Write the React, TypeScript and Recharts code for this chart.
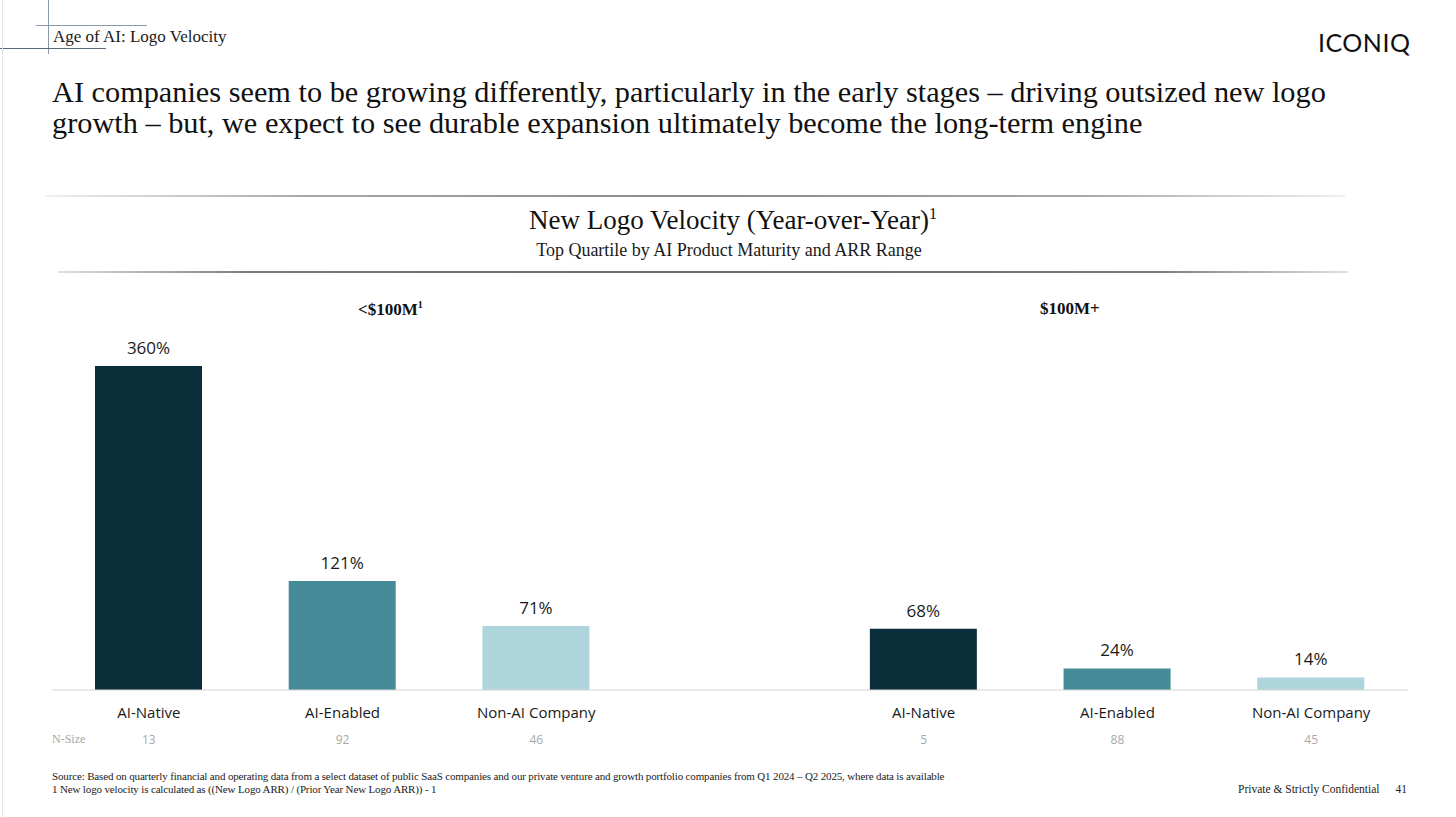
import React from "react";
import { BarChart, Bar, XAxis, YAxis, Cell, LabelList } from "recharts";

const categories = ["AI-Native", "AI-Enabled", "Non-AI Company", "", "AI-Native", "AI-Enabled", "Non-AI Company"];
const velocity: (number | null)[] = [360, 121, 71, null, 68, 24, 14];
const nSize: (number | null)[] = [13, 92, 46, null, 5, 88, 45];
const barColors = ["#0A2F3A", "#458A97", "#AED4DC", "#ffffff", "#0A2F3A", "#458A97", "#AED4DC"];
const groupLabels = ["<$100M", "$100M+"];

const data = categories.map((c, i) => ({
  key: `k${i}`,
  category: c,
  value: velocity[i],
  n: nSize[i],
}));

const SERIF = "'Liberation Serif', 'DejaVu Serif', serif";
const SANS = "'Open Sans', 'Noto Sans', sans-serif";

const Tick = (props: any) => {
  const { x, y, payload } = props;
  const idx = payload.index;
  const row = data[idx];
  if (!row || !row.category) return null;
  return (
    <g>
      <text x={x} y={y + 20} textAnchor="middle" fontFamily={SANS} fontSize={15} fill="#1a1a1a">
        {row.category}
      </text>
      <text x={x} y={y + 46} textAnchor="middle" fontFamily={SANS} fontSize={12} fill="#a8a8a8">
        {row.n}
      </text>
    </g>
  );
};

const abs = (s: React.CSSProperties): React.CSSProperties => ({ position: "absolute", ...s });

export default function App() {
  return (
    <div style={{ position: "absolute", left: 0, top: 0, width: 1456, height: 817, background: "#fff", overflow: "hidden" }}>
      {/* decorative header lines */}
      <div style={abs({ left: 48, top: 0, width: 1, height: 54, background: "#8a9aa8" })} />
      <div style={abs({ left: 36, top: 25, width: 111, height: 1, background: "#8a9aa8" })} />
      <div style={abs({ left: 0, top: 48, width: 106, height: 1, background: "#5a6a78" })} />
      <div style={abs({ left: 2, top: 0, width: 1, height: 817, background: "#e6e6e6" })} />
      <div style={abs({ left: 53, top: 27, fontFamily: SERIF, fontSize: 17, color: "#1a1a1a", whiteSpace: "nowrap" })}>
        Age of AI: Logo Velocity
      </div>
      <div style={abs({ left: 1318, top: 27, fontFamily: "Lato, sans-serif", fontSize: 25, color: "#111", letterSpacing: 0.5, whiteSpace: "nowrap" })}>
        ICONIQ
      </div>
      <div style={abs({ left: 52, top: 77, fontFamily: SERIF, fontSize: 30.3, lineHeight: "31px", color: "#111", whiteSpace: "nowrap" })}>
        AI companies seem to be growing differently, particularly in the early stages – driving outsized new logo
        <br />
        growth – but, we expect to see durable expansion ultimately become the long-term engine
      </div>

      {/* chart title block */}
      <div style={abs({ left: 45, top: 195, width: 1300, height: 2, background: "linear-gradient(90deg, #f0f0f0, #a8a8a8 20%, #8a8a8a 50%, #a8a8a8 80%, #f0f0f0)" })} />
      <div style={abs({ left: 0, top: 205, width: 1466, textAlign: "center", fontFamily: SERIF, fontSize: 27, color: "#111", whiteSpace: "nowrap" })}>
        New Logo Velocity (Year-over-Year)<sup style={{ fontSize: 16 }}>1</sup>
      </div>
      <div style={abs({ left: 0, top: 240, width: 1458, textAlign: "center", fontFamily: SERIF, fontSize: 18, color: "#1a1a1a", whiteSpace: "nowrap" })}>
        Top Quartile by AI Product Maturity and ARR Range
      </div>
      <div style={abs({ left: 58, top: 271, width: 1290, height: 2, background: "linear-gradient(90deg, #e0e0e0, #7a7a7a 15%, #6a6a6a 50%, #7a7a7a 85%, #e0e0e0)" })} />

      {/* group labels */}
      <div style={abs({ left: 358, top: 299, fontFamily: SERIF, fontSize: 17, fontWeight: 700, color: "#111", whiteSpace: "nowrap" })}>
        {groupLabels[0]}<sup style={{ fontSize: 10 }}>1</sup>
      </div>
      <div style={abs({ left: 1040, top: 299, fontFamily: SERIF, fontSize: 17, fontWeight: 700, color: "#111", whiteSpace: "nowrap" })}>
        {groupLabels[1]}
      </div>

      <div style={abs({ left: 0, top: 0 })}>
        <BarChart width={1456} height={817} data={data} margin={{ top: 330, right: 48, bottom: 67, left: 52 }}>
          <XAxis
            dataKey="key"
            height={60}
            interval={0}
            tickLine={false}
            axisLine={{ stroke: "#d4d4d4", strokeWidth: 1 }}
            tick={<Tick />}
          />
          <YAxis hide domain={[0, 400]} />
          <Bar dataKey="value" barSize={107} isAnimationActive={false}>
            {data.map((d, i) => (
              <Cell key={d.key} fill={barColors[i]} />
            ))}
            <LabelList
              dataKey="value"
              position="top"
              offset={12}
              formatter={(v: any) => (v == null ? "" : `${v}%`)}
              style={{ fontFamily: SANS, fontSize: 17, fill: "#1a1a1a" }}
            />
          </Bar>
        </BarChart>
      </div>

      <div style={abs({ left: 52, top: 732, fontFamily: SERIF, fontSize: 12, color: "#a8a8a8" })}>N-Size</div>

      {/* footer */}
      <div style={abs({ left: 52, top: 770, fontFamily: SERIF, fontSize: 11, lineHeight: "13px", color: "#222", whiteSpace: "nowrap", letterSpacing: -0.15 })}>
        Source: Based on quarterly financial and operating data from a select dataset of public SaaS companies and our private venture and growth portfolio companies from Q1 2024 – Q2 2025, where data is available
        <br />
        1 New logo velocity is calculated as ((New Logo ARR) / (Prior Year New Logo ARR)) - 1
      </div>
      <div style={abs({ left: 1238, top: 783, fontFamily: SERIF, fontSize: 11.5, color: "#222", whiteSpace: "nowrap" })}>
        Private &amp; Strictly Confidential<span style={{ marginLeft: 16 }}>41</span>
      </div>
    </div>
  );
}
